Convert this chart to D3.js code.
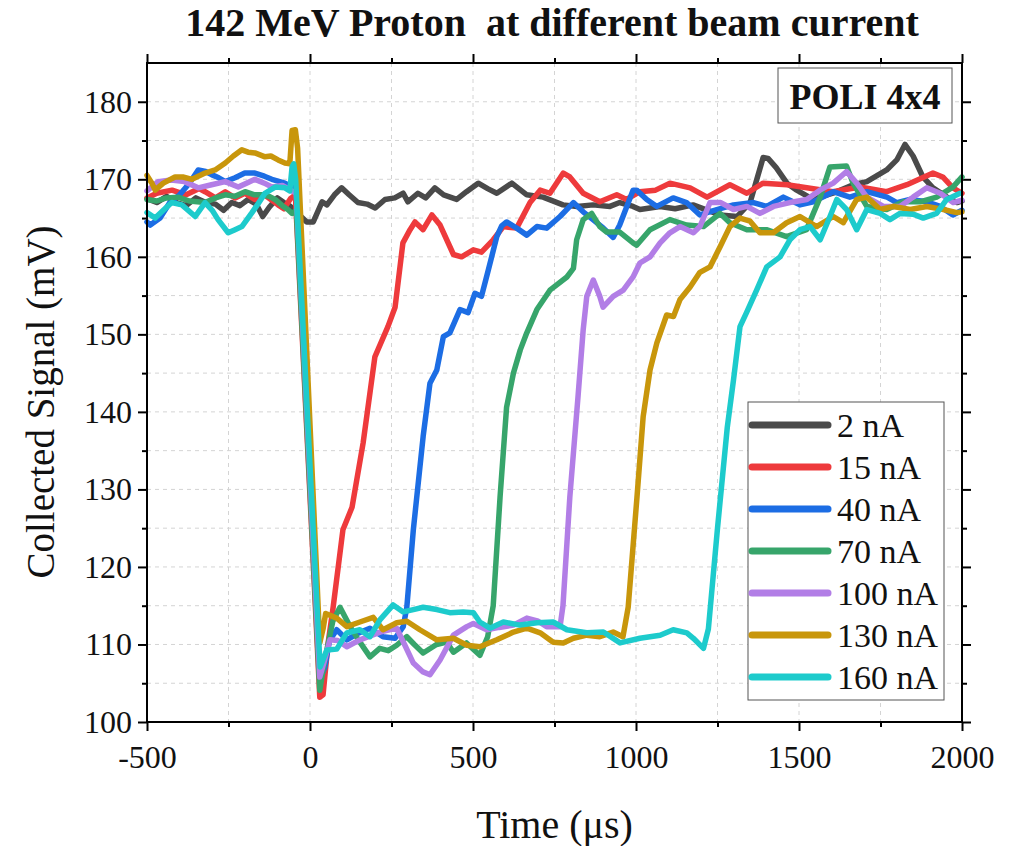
<!DOCTYPE html>
<html>
<head>
<meta charset="utf-8">
<script src="https://cdn.jsdelivr.net/npm/d3@7"></script>
<style>
  body { margin: 0; background: #fff; }
  svg text { font-family: "Liberation Serif", "Times New Roman", serif; fill: #111; white-space: pre; }
  .grid line { stroke: #d4d4d4; stroke-dasharray: 4,4; stroke-width: 1; }
  .axis path, .axis line { stroke: #000; stroke-width: 2; }
</style>
</head>
<body>
<svg id="chart"></svg>
<script>
// series labels and colours
const seriesNames = ["2 nA", "15 nA", "40 nA", "70 nA", "100 nA", "130 nA", "160 nA"];
const seriesColors = ["#4a4a4a", "#ee3a3c", "#1c6de4", "#37a56b", "#b27ee6", "#c8960b", "#1dcbcc"];

// [time (µs), signal (mV)]
const s2nA = [[-500,167.5],[-470,167],[-440,167.8],[-410,167],[-380,166.6],[-350,167.6],[-320,167],[-290,166.8],[-265,166],[-240,167],[-215,166.6],[-190,167.4],[-165,166.8],[-145,165.2],[-125,166.4],[-100,167.6],[-80,167],[-60,166.5],[-35,165.5],[-10,164.5],[10,164.5],[37,167.1],[52,166.7],[75,168],[97,168.9],[120,168],[147,167],[175,166.8],[200,166.3],[230,167.4],[260,167.6],[286,168.2],[300,167.1],[331,168.2],[355,167.6],[383,168.9],[410,168],[450,167.4],[480,168.4],[516,169.5],[545,168.8],[573,168.2],[619,169.5],[665,168],[715,167.7],[776,166.7],[819,166.5],[868,166.7],[920,166.5],[950,167],[991,166.5],[1012,166.1],[1074,166.5],[1120,166.2],[1175,166.7],[1220,166],[1258,165.4],[1310,165.2],[1350,167],[1390,172.8],[1405,172.7],[1430,171.5],[1463,169.5],[1493,168.6],[1543,167.4],[1604,168.2],[1666,169.3],[1708,169.7],[1769,171.2],[1800,172.5],[1825,174.5],[1850,173],[1880,170.3],[1911,168.9],[1954,167.7],[1985,167],[2000,167.2]];
const s15nA = [[-500,167.6],[-470,168.2],[-423,168.6],[-380,168],[-340,168.8],[-322,168.4],[-290,167.6],[-260,168.4],[-230,167.6],[-200,168.2],[-170,167.4],[-140,168],[-98,166.7],[-80,166.2],[-60,167.5],[-45,168],[30,103.2],[40,103.5],[55,110],[71,114.8],[101,124.8],[129,127.7],[163,136],[199,147.1],[239,151],[261,153.5],[285,161.8],[307,163.5],[322,164.5],[347,163.5],[374,165.4],[399,164.1],[440,160.3],[465,160],[501,160.9],[526,160.6],[562,162.2],[593,163.9],[634,163.7],[675,167],[706,168.6],[736,168.2],[777,170.8],[797,170.3],[838,168.2],[889,167.1],[941,168],[971,167.4],[1012,168.4],[1060,168.6],[1104,169.5],[1166,168.9],[1218,167.7],[1288,169.3],[1340,168.2],[1390,169.5],[1463,169.3],[1524,168.9],[1604,168.4],[1687,169],[1769,168.4],[1831,169.3],[1911,170.8],[1941,170.3],[1972,168.9],[2000,168.2]];
const s40nA = [[-500,164.5],[-490,164.1],[-460,165],[-430,167],[-400,168],[-370,169.5],[-343,171.2],[-320,171],[-302,170.6],[-280,170.2],[-260,169.7],[-230,170.2],[-200,170.8],[-169,170.8],[-140,170.4],[-117,170],[-77,169.5],[-55,169],[-42,168.5],[30,105.5],[45,107],[60,110.5],[82,111.9],[113,110.6],[150,111.5],[184,112.1],[224,111],[261,110.8],[286,112.3],[297,114.8],[317,124.8],[347,136.8],[368,143.7],[389,145.4],[409,149.7],[429,150.2],[460,153.2],[485,152.8],[506,155.3],[526,154.9],[547,158.3],[573,162.6],[588,164],[603,164.5],[634,163.7],[665,162.8],[696,163.9],[726,163.7],[767,165.2],[808,167],[838,165.8],[868,164.8],[900,163.7],[930,162.5],[950,164.1],[991,168.6],[1002,168.6],[1033,167.4],[1064,166.5],[1114,167.6],[1155,167],[1196,165.4],[1248,166.1],[1299,166.7],[1360,167],[1401,166.5],[1452,167.7],[1503,166.7],[1544,167.1],[1605,168.4],[1656,167.7],[1708,168.4],[1770,167.7],[1800,167],[1840,167.4],[1892,167.1],[1933,166.5],[1972,165.4],[2000,166]];
const s70nA = [[-500,167.4],[-470,167.2],[-440,167.6],[-405,167.7],[-370,167.2],[-322,167],[-290,167.6],[-260,168],[-230,167.8],[-199,168.4],[-170,168],[-148,168],[-125,167.8],[-107,167.4],[-85,166.6],[-68,166.1],[-55,165.6],[-42,166],[30,104.1],[45,108],[70,113],[92,114.8],[123,112.3],[150,110.5],[184,108.4],[214,109.5],[240,109.2],[266,109.9],[297,111],[320,110],[347,108.9],[388,110],[419,110.3],[440,109],[480,110.2],[521,108.6],[545,111],[562,115],[583,129],[603,140.6],[624,145],[645,148],[665,150.2],[696,153.2],[736,155.7],[788,157.4],[808,158.5],[818,162.2],[838,164.8],[864,165.6],[889,163.9],[910,163.2],[950,163.2],[991,161.8],[1002,161.5],[1043,163.5],[1104,164.8],[1155,164.1],[1207,163.9],[1258,165.6],[1288,164.4],[1340,163.5],[1400,163.5],[1462,162.6],[1523,163.5],[1565,167.7],[1595,171.6],[1646,171.7],[1666,169.5],[1708,166.5],[1769,166.1],[1820,167.1],[1871,167.1],[1922,167.7],[1972,169],[2000,170.3]];
const s100nA = [[-500,168.5],[-466,169.7],[-426,169.9],[-385,169.7],[-343,168.9],[-302,169.3],[-260,169.7],[-220,169],[-190,169.6],[-169,170],[-140,169.5],[-117,169],[-85,169.2],[-60,168.6],[-42,168.2],[30,105.8],[45,108],[61,110.6],[85,110.5],[113,109.7],[153,110.6],[215,111.6],[266,112.1],[290,110],[317,107.6],[345,106.5],[368,106.1],[399,108],[440,111.2],[481,112.3],[501,112.7],[542,111.9],[580,112.2],[624,112.5],[665,113.4],[700,113],[726,112.3],[767,112.3],[776,115],[797,129],[822,141.9],[838,150.6],[849,154.9],[869,157],[889,154.9],[899,153.5],[930,154.9],[961,155.7],[991,157.4],[1012,159.2],[1043,160],[1074,161.8],[1104,163.1],[1135,163.9],[1176,163.1],[1196,163.9],[1227,167],[1260,167],[1299,166.1],[1340,166.5],[1380,165.6],[1422,166.5],[1472,167],[1524,167.4],[1564,168.6],[1605,169.5],[1646,171],[1677,169.5],[1708,167.7],[1759,166.5],[1810,166.5],[1850,167.7],[1892,168.9],[1933,168.2],[1973,167],[2000,167.3]];
const s130nA = [[-500,170.5],[-485,169.5],[-475,168.6],[-450,169.5],[-414,170.3],[-390,170.3],[-362,170],[-322,170.8],[-291,171.2],[-260,172.1],[-235,173],[-209,173.8],[-190,173.5],[-169,173.4],[-138,172.9],[-120,173],[-98,172.5],[-77,172.1],[-62,172],[-55,176.3],[-45,176.4],[-38,174],[30,110.2],[40,112],[48,114],[82,113.4],[113,112.3],[153,112.9],[194,113.5],[224,111.9],[266,112.8],[297,113],[337,111.9],[389,110.6],[440,110.8],[481,109.9],[521,109.7],[573,110.6],[624,111.6],[665,112.1],[706,111.5],[746,110.3],[777,110.2],[808,110.8],[849,111.2],[889,111],[930,111.6],[960,111],[976,114.8],[1003,129],[1022,139.4],[1043,145.4],[1064,148.9],[1094,152.5],[1115,152.3],[1135,154.5],[1166,156.1],[1196,158],[1227,158.7],[1258,161.3],[1288,163.9],[1319,165],[1350,164.6],[1380,163.1],[1421,163.1],[1462,164.4],[1503,165.2],[1554,163.9],[1605,165.2],[1636,164.4],[1677,167.4],[1708,167.7],[1749,166.1],[1790,166.5],[1841,166.1],[1892,166.5],[1943,166.1],[1984,165.7],[2000,165.8]];
const s160nA = [[-500,165.7],[-475,165],[-450,166],[-424,167],[-393,166.7],[-352,165.2],[-322,167],[-300,166],[-282,164.8],[-251,163.1],[-230,163.5],[-209,163.9],[-178,165.7],[-160,166.8],[-138,168.2],[-107,169],[-77,168.9],[-62,168.5],[-55,171.6],[-50,172],[-44,170],[31,107.1],[52,109.3],[82,109.4],[113,111.5],[153,111.9],[184,111],[215,113.2],[255,115.1],[286,114.2],[317,114.5],[347,114.8],[389,114.5],[429,114.1],[470,114.2],[501,114.1],[521,112.9],[552,112.1],[593,112.9],[644,112.5],[696,112.8],[746,112.9],[788,111.9],[849,111.5],[900,111.6],[951,110.2],[1012,110.8],[1074,111.2],[1114,111.9],[1156,111.5],[1176,110.8],[1207,109.5],[1222,112],[1250,125],[1280,138],[1299,144.1],[1319,151],[1339,152.8],[1370,155.7],[1401,158.7],[1442,160],[1472,162.2],[1503,163.5],[1534,163.9],[1565,162.2],[1595,165.2],[1616,167.4],[1646,166.1],[1677,163.5],[1708,166.1],[1749,165.6],[1779,164.8],[1810,165.6],[1850,165.5],[1881,165],[1922,165.6],[1953,167.4],[1994,168.2]];
const seriesData = [s2nA, s15nA, s40nA, s70nA, s100nA, s130nA, s160nA];

// axis ticks
const xMajorTicks = [-500, 0, 500, 1000, 1500, 2000];
const xMinorTicks = [-250, 250, 750, 1250, 1750];
const yMajorTicks = [100, 110, 120, 130, 140, 150, 160, 170, 180];
const yMinorTicks = [105, 115, 125, 135, 145, 155, 165, 175];

const drawChart = () => {
  const chartSize = { width: 1020, height: 846 };
  const margin = { left: 147, right: 58, top: 63, bottom: 124 };
  const width = chartSize.width - margin.left - margin.right;
  const height = chartSize.height - margin.top - margin.bottom;

  const x = d3.scaleLinear().domain([-500, 2000]).range([0, width]);
  const y = d3.scaleLinear().domain([100, 185]).range([height, 0]);
  const plain = d => String(d);

  const svg = d3.select("#chart")
    .attr("width", chartSize.width)
    .attr("height", chartSize.height);

  svg.append("text")
    .attr("x", 552)
    .attr("y", 36)
    .attr("text-anchor", "middle")
    .attr("font-size", 40)
    .attr("font-weight", "bold")
    .text("142 MeV Proton  at different beam current");

  const g = svg.append("g")
    .attr("transform", `translate(${margin.left},${margin.top})`);

  // dashed grid on major and minor ticks
  const grid = g.append("g").attr("class", "grid");
  grid.selectAll(".gx")
    .data(xMajorTicks.concat(xMinorTicks))
    .enter().append("line")
    .attr("x1", d => x(d)).attr("x2", d => x(d))
    .attr("y1", 0).attr("y2", height);
  grid.selectAll(".gy")
    .data(yMajorTicks.concat(yMinorTicks))
    .enter().append("line")
    .attr("x1", 0).attr("x2", width)
    .attr("y1", d => y(d)).attr("y2", d => y(d));

  // axes on four sides, ticks pointing out
  const addAxis = (axis, cls, transform) => {
    const a = g.append("g").attr("class", "axis " + cls).attr("transform", transform).call(axis);
    a.select(".domain").remove();
    return a;
  };
  const noLabel = () => "";
  addAxis(d3.axisLeft(y).tickValues(yMajorTicks).tickSize(9).tickPadding(6).tickFormat(plain), "y-left", "")
    .selectAll("text").attr("font-size", 32);
  addAxis(d3.axisLeft(y).tickValues(yMinorTicks).tickSize(5).tickFormat(noLabel), "y-left-minor", "");
  addAxis(d3.axisRight(y).tickValues(yMajorTicks).tickSize(9).tickFormat(noLabel), "y-right", `translate(${width},0)`);
  addAxis(d3.axisRight(y).tickValues(yMinorTicks).tickSize(5).tickFormat(noLabel), "y-right-minor", `translate(${width},0)`);
  addAxis(d3.axisBottom(x).tickValues(xMajorTicks).tickSize(9).tickPadding(14).tickFormat(plain), "x-bottom", `translate(0,${height})`)
    .selectAll("text").attr("font-size", 32);
  addAxis(d3.axisBottom(x).tickValues(xMinorTicks).tickSize(5).tickFormat(noLabel), "x-bottom-minor", `translate(0,${height})`);
  addAxis(d3.axisTop(x).tickValues(xMajorTicks).tickSize(9).tickFormat(noLabel), "x-top", "");
  addAxis(d3.axisTop(x).tickValues(xMinorTicks).tickSize(5).tickFormat(noLabel), "x-top-minor", "");

  g.selectAll(".axis text").attr("fill", "#111").attr("font-family", "'Liberation Serif', 'Times New Roman', serif");

  // curves
  const line = d3.line()
    .x(d => x(d[0]))
    .y(d => y(d[1]));

  g.selectAll(".series")
    .data(seriesData)
    .enter().append("path")
    .attr("class", "series")
    .attr("d", line)
    .attr("fill", "none")
    .attr("stroke", (d, i) => seriesColors[i])
    .attr("stroke-width", 5.5)
    .attr("stroke-linejoin", "round")
    .attr("stroke-linecap", "round");

  // frame
  g.append("rect")
    .attr("width", width).attr("height", height)
    .attr("fill", "none").attr("stroke", "#000").attr("stroke-width", 2);

  // axis titles
  g.append("text")
    .attr("transform", "rotate(-90)")
    .attr("x", -339)
    .attr("y", -93)
    .attr("text-anchor", "middle")
    .attr("font-size", 39)
    .text("Collected Signal (mV)");

  g.append("text")
    .attr("x", x(750))
    .attr("y", height + 116)
    .attr("text-anchor", "middle")
    .attr("font-size", 40)
    .text("Time (μs)");

  // POLI 4x4 tag
  svg.append("rect")
    .attr("x", 778).attr("y", 68).attr("width", 174).attr("height", 55)
    .attr("fill", "#fff").attr("stroke", "#555").attr("stroke-width", 1);
  svg.append("text")
    .attr("x", 865).attr("y", 109)
    .attr("text-anchor", "middle")
    .attr("font-size", 36)
    .attr("font-weight", "bold")
    .text("POLI 4x4");

  // legend
  const legend = svg.append("g").attr("transform", "translate(748,402)");
  legend.append("rect")
    .attr("width", 196).attr("height", 298)
    .attr("fill", "#fff").attr("stroke", "#555").attr("stroke-width", 1);
  const items = legend.selectAll(".item")
    .data(seriesNames)
    .enter().append("g")
    .attr("class", "item")
    .attr("transform", (d, i) => `translate(0,${23 + i * 42})`);
  items.append("line")
    .attr("x1", 4).attr("x2", 80)
    .attr("stroke", (d, i) => seriesColors[i])
    .attr("stroke-width", 7)
    .attr("stroke-linecap", "round");
  items.append("text")
    .attr("x", 89).attr("y", 12)
    .attr("font-size", 34)
    .text(d => d);
};

window.onload = drawChart;
</script>
</body>
</html>
